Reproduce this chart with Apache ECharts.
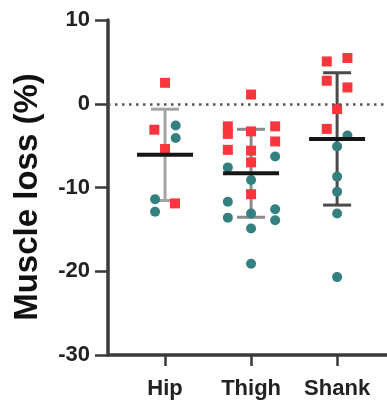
<!DOCTYPE html>
<html><head><meta charset="utf-8">
<script src="https://cdn.jsdelivr.net/npm/echarts@6/dist/echarts.min.js"></script>
<style>html,body{margin:0;padding:0;background:#fff}#c{width:387px;height:403px}</style>
</head><body><div id="c"></div>
<script>
const categories = ['Hip', 'Thigh', 'Shank'];
const yTicks = [-30, -20, -10, 0, 10];
const yTitle = 'Muscle loss (%)';

// red squares: values and x positions (category index + jitter)
const redValues = [2.5, -3.1, -5.4, -11.9,
  1.1, -2.7, -3.6, -5.5, -3.3, -5.6, -7.0, -10.8, -2.7, -4.5,
  5.05, 5.46, 2.75, 1.95, -0.64, -3.0];
const redX = [1.0, 0.876, 1.0, 1.116,
  2.0, 1.73, 1.73, 1.73, 2.0, 2.0, 2.0, 2.0, 2.28, 2.28,
  2.88, 3.12, 2.88, 3.12, 3.0, 2.88];

// teal circles
const tealValues = [-2.6, -4.1, -11.4, -12.9,
  -7.6, -11.7, -13.6, -9.1, -13.1, -14.9, -19.1, -6.3, -12.6, -13.9,
  -3.8, -5.1, -8.7, -10.5, -13.1, -20.7];
const tealX = [1.124, 1.124, 0.884, 0.884,
  1.73, 1.73, 1.73, 2.0, 2.0, 2.0, 2.0, 2.28, 2.28, 2.28,
  3.12, 3.0, 3.0, 3.0, 3.0, 3.0];

const meanValues = [-6.1, -8.3, -4.2];
const sdValues = [5.45, 5.25, 7.9];
const barColors = ['#a3a3a3', '#8a8a8a', '#4a4a4a'];

const chart = echarts.init(document.getElementById('c'));
const FONT = '"Liberation Sans", Arial, sans-serif';

const errData = categories.map((c, i) => [i + 1, meanValues[i], meanValues[i] - sdValues[i], meanValues[i] + sdValues[i]]);

chart.setOption({
  animation: false,
  grid: { left: 108, right: 0, top: 20, bottom: 48 },
  graphic: [{
    type: 'text', x: 28, y: 197, rotation: Math.PI / 2,
    style: { text: yTitle, fontFamily: FONT, fontWeight: 'bold', fontSize: 33, fill: '#111',
      align: 'center', verticalAlign: 'middle' }
  }],
  xAxis: {
    type: 'value', min: 0.337, max: 3.58,
    splitLine: { show: false },
    axisLine: { onZero: false, lineStyle: { color: '#3a3a3a', width: 3.5 } },
    axisTick: { show: true, customValues: [1, 2, 3], length: 11, lineStyle: { color: '#3a3a3a', width: 2.5 } },
    axisLabel: { customValues: [1, 2, 3], formatter: v => categories[Math.round(v) - 1] || '',
      fontFamily: FONT, fontWeight: 'bold', fontSize: 22, color: '#222', margin: 23 }
  },
  yAxis: {
    type: 'value', min: -30, max: 10, interval: 10,
    splitLine: { show: false },
    axisLine: { show: true, lineStyle: { color: '#3a3a3a', width: 3.5 } },
    axisTick: { show: true, length: 13, lineStyle: { color: '#3a3a3a', width: 2.5 } },
    axisLabel: { fontFamily: FONT, fontWeight: 'bold', fontSize: 22, color: '#222', margin: 18,
      formatter: v => yTicks.includes(v) ? String(v) : '' }
  },
  series: [
    {
      type: 'custom', z: 1,
      data: errData,
      renderItem: (params, api) => {
        const i = params.dataIndex;
        const top = api.coord([api.value(0), api.value(3)]);
        const bot = api.coord([api.value(0), api.value(2)]);
        const col = barColors[i];
        return { type: 'group', children: [
          { type: 'line', shape: { x1: top[0], y1: top[1], x2: bot[0], y2: bot[1] }, style: { stroke: col, lineWidth: 3 } },
          { type: 'line', shape: { x1: top[0] - 14, y1: top[1], x2: top[0] + 14, y2: top[1] }, style: { stroke: col, lineWidth: 3 } },
          { type: 'line', shape: { x1: bot[0] - 14, y1: bot[1], x2: bot[0] + 14, y2: bot[1] }, style: { stroke: col, lineWidth: 3 } }
        ]};
      },
      markLine: {
        silent: true, symbol: 'none', label: { show: false },
        lineStyle: { color: '#555', width: 2.5, type: [2.5, 4.5] },
        data: [{ yAxis: 0 }]
      }
    },
    {
      type: 'scatter', z: 3, symbol: 'circle', symbolSize: 10,
      itemStyle: { color: '#347f7f', opacity: 1 },
      data: tealValues.map((v, i) => [tealX[i], v])
    },
    {
      type: 'scatter', z: 3, symbol: 'rect', symbolSize: 10,
      itemStyle: { color: '#f8363b', opacity: 1 },
      data: redValues.map((v, i) => [redX[i], v])
    },
    {
      type: 'custom', z: 5,
      data: errData,
      renderItem: (params, api) => {
        const m = api.coord([api.value(0), api.value(1)]);
        return { type: 'line', shape: { x1: m[0] - 28, y1: m[1], x2: m[0] + 28, y2: m[1] }, style: { stroke: '#151515', lineWidth: 4 } };
      }
    }
  ]
});
</script></body></html>
